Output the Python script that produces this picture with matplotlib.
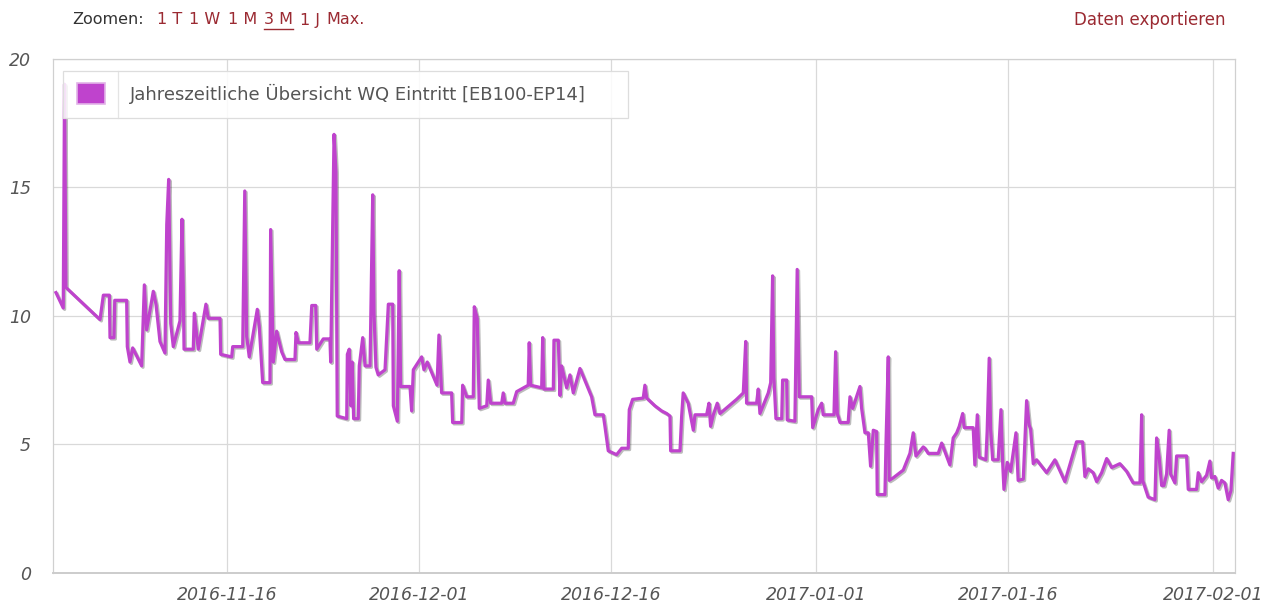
import matplotlib
matplotlib.use("Agg")
import matplotlib.pyplot as plt
import matplotlib.patheffects as pe
import matplotlib.dates as mdates
from matplotlib.patches import Rectangle
from matplotlib.lines import Line2D
import pandas as pd

# ---------------- data ----------------
start = pd.Timestamp("2016-11-01")
day_offsets = [
    1.67, 2.24, 2.34, 2.45, 5.11, 5.37, 5.84, 5.89, 6.20, 6.26, 7.19, 7.24, 7.45, 7.66, 8.36, 8.57,
    8.75, 9.27, 9.48, 9.79, 10.18, 10.32, 10.47, 10.63, 10.83, 11.35, 11.51, 11.61, 11.67, 12.39,
    12.47, 12.78, 13.38, 13.56, 14.48, 14.53, 15.39, 15.47, 16.25, 16.41, 16.56, 16.76, 17.39, 17.54,
    17.81, 18.38, 18.43, 18.64, 18.90, 19.29, 19.55, 20.33, 20.41, 20.59, 21.50, 21.64, 21.95, 22.03,
    22.54, 23.06, 23.12, 23.38, 23.53, 23.63, 24.37, 24.42, 24.57, 24.70, 24.80, 24.91, 25.27, 25.35,
    25.62, 25.80, 26.19, 26.40, 26.50, 26.65, 26.83, 27.36, 27.62, 27.96, 28.01, 28.32, 28.47, 28.58,
    29.31, 29.44, 29.57, 30.22, 30.40, 30.66, 31.42, 31.57, 31.78, 32.56, 32.64, 33.35, 33.42, 33.74,
    34.25, 34.33, 34.56, 34.72, 35.30, 35.42, 35.61, 36.47, 36.59, 36.73, 37.37, 37.64, 38.54, 38.62,
    38.73, 39.59, 39.67, 39.77, 40.50, 40.55, 40.89, 41.02, 41.15, 41.54, 41.80, 42.06, 42.58, 43.49,
    43.75, 44.40, 44.53, 44.79, 45.44, 45.84, 46.35, 46.43, 46.69, 47.52, 47.65, 47.79, 48.43, 48.96,
    49.35, 49.61, 49.66, 50.39, 50.52, 50.64, 51.03, 51.43, 51.56, 52.47, 52.65, 52.78, 52.99, 53.30,
    53.51, 54.81, 55.33, 55.52, 55.59, 56.37, 56.50, 56.63, 57.28, 57.47, 57.62, 57.72, 57.88, 58.33,
    58.40, 58.72, 58.76, 59.36, 59.54, 59.70, 60.67, 60.75, 61.18, 61.45, 61.57, 62.41, 62.54, 62.67,
    62.88, 63.52, 63.66, 63.87, 64.44, 64.57, 64.83, 65.09, 65.27, 65.48, 65.74, 65.79, 66.39, 66.47,
    66.65, 66.72, 67.04, 67.82, 68.34, 68.60, 68.81, 69.38, 69.51, 69.77, 70.55, 70.82, 71.46, 71.72,
    71.99, 72.19, 72.46, 72.58, 73.28, 73.41, 73.60, 73.75, 74.27, 74.37, 74.53, 74.64, 74.80, 75.23,
    75.45, 75.58, 75.68, 75.94, 76.20, 76.62, 76.79, 77.19, 77.45, 77.65, 77.76, 77.97, 78.23, 79.01,
    79.66, 80.44, 81.35, 81.82, 82.00, 82.26, 82.65, 82.92, 83.31, 83.70, 84.09, 84.73, 85.26, 85.77,
    86.30, 86.43, 86.51, 86.94, 87.47, 87.60, 87.80, 87.99, 88.17, 88.38, 88.58, 88.69, 89.03, 89.16,
    89.94, 90.07, 90.72, 90.85, 91.11, 91.50, 91.76, 91.89, 92.15, 92.41, 92.67, 92.93, 93.19, 93.40,
    93.58,
]
values = [
    10.9, 10.3, 19.0, 11.1, 9.85, 10.8, 10.8, 9.15, 9.15, 10.6, 10.6, 8.8, 8.2, 8.75, 8.05, 11.2,
    9.45, 10.95, 10.45, 9.0, 8.55, 13.55, 15.3, 9.7, 8.8, 9.8, 13.75, 11.15, 8.7, 8.7,
    10.1, 8.7, 10.45, 9.9, 9.9, 8.5, 8.4, 8.8, 8.8, 14.85, 9.2, 8.4, 10.25, 9.6,
    7.4, 7.4, 13.35, 8.2, 9.4, 8.6, 8.3, 8.3, 9.35, 8.95, 8.95, 10.4, 10.4, 8.7,
    9.1, 9.1, 8.2, 17.05, 15.6, 6.1, 6.0, 8.5, 8.7, 6.5, 8.2, 6.0, 6.0, 8.05,
    9.15, 8.05, 8.05, 14.7, 10.1, 8.0, 7.7, 7.9, 10.45, 10.45, 6.5, 5.9, 11.75, 7.25,
    7.25, 6.3, 7.9, 8.4, 7.9, 8.2, 7.3, 9.25, 7.0, 7.0, 5.85, 5.85, 7.3, 6.85,
    6.85, 10.35, 9.9, 6.4, 6.5, 7.5, 6.6, 6.6, 7.0, 6.6, 6.6, 7.05, 7.3, 8.95,
    7.3, 7.2, 9.15, 7.15, 7.15, 9.05, 9.05, 6.9, 8.05, 7.2, 7.7, 7.0, 7.95, 6.85,
    6.15, 6.15, 5.7, 4.75, 4.6, 4.85, 4.85, 6.35, 6.75, 6.8, 7.3, 6.8, 6.5, 6.3,
    6.2, 6.1, 4.75, 4.75, 6.1, 7.0, 6.6, 5.55, 6.15, 6.15, 6.6, 5.7, 6.15, 6.6,
    6.2, 6.75, 7.0, 9.0, 6.6, 6.6, 7.15, 6.2, 7.0, 7.4, 11.55, 7.6, 6.0, 6.0,
    7.5, 7.5, 5.95, 5.9, 11.8, 6.85, 6.85, 5.65, 6.35, 6.6, 6.15, 6.15, 8.6, 6.2,
    5.85, 5.85, 6.85, 6.4, 7.25, 6.4, 5.45, 5.45, 4.15, 5.55, 5.5, 3.05, 3.05, 5.0,
    8.4, 3.6, 3.7, 4.0, 4.65, 5.45, 4.55, 4.9, 4.85, 4.65, 4.65, 5.05, 4.2, 5.25,
    5.45, 5.7, 6.2, 5.65, 5.65, 4.2, 6.15, 4.5, 4.4, 5.5, 8.35, 5.6, 4.4, 4.4,
    6.35, 4.3, 3.25, 4.3, 3.95, 5.45, 3.6, 3.65, 6.7, 5.75, 5.6, 4.25, 4.4, 3.9,
    4.4, 3.55, 5.1, 5.1, 3.75, 4.05, 3.9, 3.55, 3.9, 4.45, 4.1, 4.25, 3.95, 3.5,
    3.5, 6.15, 3.6, 2.95, 2.85, 5.25, 4.5, 3.4, 3.4, 3.85, 5.55, 3.85, 3.5, 4.55,
    4.55, 3.25, 3.25, 3.9, 3.55, 3.8, 4.35, 3.7, 3.75, 3.3, 3.6, 3.5, 2.85, 3.2,
    4.65,
]
series_name = "Jahreszeitliche Übersicht WQ Eintritt [EB100-EP14]"
x_tick_labels = ["2016-11-16", "2016-12-01", "2016-12-16", "2017-01-01", "2017-01-16", "2017-02-01"]
y_ticks = [0, 5, 10, 15, 20]
zoom_label = "Zoomen:"
zoom_links = ["1 T", "1 W", "1 M", "3 M", "1 J", "Max."]
active_link = "3 M"
export_label = "Daten exportieren"
x_range_days = (1.44, 93.72)

# ---------------- style ----------------
W, H = 1280, 614
LINE_COLOR = "#bf43cd"
GRID_COLOR = "#d9d9d9"
LABEL_COLOR = "#555555"
LINK_COLOR = "#9b2a32"
FONT = "DejaVu Sans"


def fx(px):
    return px / W


def fy(py):
    return 1 - py / H


fig = plt.figure(figsize=(W / 100, H / 100), dpi=100)
fig.patch.set_facecolor("white")
ax = fig.add_axes([fx(53), fy(573), fx(1235) - fx(53), fy(58.5) - fy(573)])

times = start + pd.to_timedelta(day_offsets, unit="D")
ax.plot(times, values, color=LINE_COLOR, lw=2.3, solid_joinstyle="round", zorder=3,
        path_effects=[pe.SimpleLineShadow(offset=(1, -1), shadow_color="#222222", alpha=0.3),
                      pe.Normal()])

ax.set_xlim(start + pd.Timedelta(days=x_range_days[0]), start + pd.Timedelta(days=x_range_days[1]))
ax.set_ylim(y_ticks[0], y_ticks[-1])
ax.set_yticks(y_ticks)
ax.set_yticklabels([str(v) for v in y_ticks])
ax.set_xticks([mdates.date2num(pd.Timestamp(t)) for t in x_tick_labels])
ax.set_xticklabels(x_tick_labels)

ax.grid(True, color=GRID_COLOR, lw=0.9, zorder=0)
ax.set_axisbelow(True)
for s in ax.spines.values():
    s.set_color("#d0d0d0")
    s.set_linewidth(0.9)
ax.spines["bottom"].set_color("#cccccc")
ax.spines["bottom"].set_linewidth(1.4)

ax.tick_params(axis="both", length=0, labelsize=12.5, labelcolor=LABEL_COLOR)
ax.tick_params(axis="y", pad=16)
ax.tick_params(axis="x", pad=9)
for lab in ax.get_xticklabels() + ax.get_yticklabels():
    lab.set_fontstyle("italic")
    lab.set_fontfamily(FONT)

# ---------------- legend (manual, Highcharts-like) ----------------
leg_box = Rectangle((fx(63), fy(118)), fx(628) - fx(63), fy(71) - fy(118), transform=fig.transFigure,
                    facecolor="white", alpha=0.85, edgecolor="none", zorder=5)
fig.patches.append(leg_box)
leg_border = Rectangle((fx(63), fy(118)), fx(628) - fx(63), fy(71) - fy(118), transform=fig.transFigure,
                       facecolor="none", edgecolor="#dddddd", lw=0.9, zorder=6)
fig.patches.append(leg_border)
fig.add_artist(Line2D([fx(118), fx(118)], [fy(71), fy(118)], transform=fig.transFigure,
                      color="#e4e4e4", lw=0.9, zorder=6))
marker = Rectangle((fx(77), fy(104)), fx(105) - fx(77), fy(83) - fy(104), transform=fig.transFigure,
                   facecolor=LINE_COLOR, edgecolor="#e2b3e8", lw=1.2, zorder=7)
fig.patches.append(marker)
fig.text(fx(130), fy(94), series_name, ha="left", va="center", fontsize=13, color=LABEL_COLOR,
         family=FONT, zorder=8)

# ---------------- header ----------------
HEAD_FS = 11.5
fig.canvas.draw()
renderer = fig.canvas.get_renderer()
fig.text(fx(72), fy(20), zoom_label, ha="left", va="center", fontsize=HEAD_FS, color="#333333", family=FONT)
cur_x = 157.0
gap = 7.0
for lab in zoom_links:
    t = fig.text(fx(cur_x), fy(20), lab, ha="left", va="center", fontsize=HEAD_FS, color=LINK_COLOR,
                 family=FONT)
    bb = t.get_window_extent(renderer=renderer)
    if lab == active_link:
        fig.add_artist(Line2D([bb.x0 / W, bb.x1 / W], [fy(29), fy(29)], transform=fig.transFigure,
                              color=LINK_COLOR, lw=1.0))
    cur_x = bb.x1 + gap
fig.text(fx(1226), fy(20), export_label, ha="right", va="center", fontsize=12, color=LINK_COLOR, family=FONT)

fig.savefig("out.png", dpi=100, facecolor="white")
